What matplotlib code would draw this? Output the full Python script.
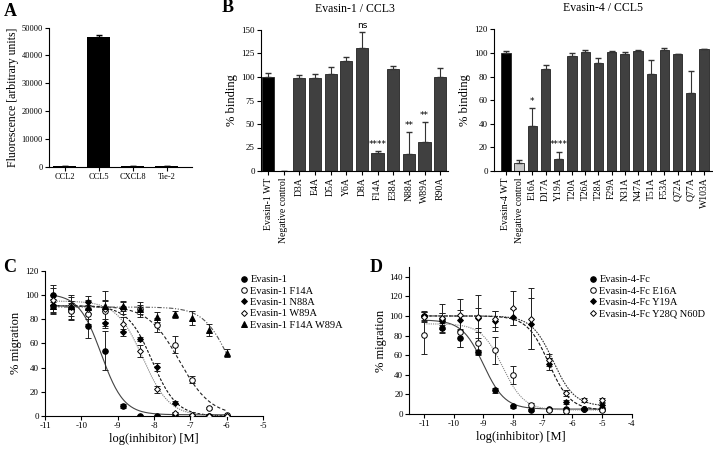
import numpy as np
import matplotlib
matplotlib.use("Agg")
import matplotlib.pyplot as plt
from matplotlib.lines import Line2D

plt.rcParams['font.family'] = ['Liberation Serif', 'DejaVu Serif']
plt.rcParams['axes.unicode_minus'] = False
plt.rcParams['axes.linewidth'] = 0.8

# ---- panel A data
a_labels = ['CCL2', 'CCL5', 'CXCL8', 'Tie-2']
a_vals = [250, 46500, 120, 250]
a_err = [100, 700, 60, 100]

# ---- panel B data
b1_labels = ['Evasin-1 WT', 'Negative control', 'D3A', 'E4A', 'D5A', 'Y6A', 'D8A',
             'F14A', 'E38A', 'N88A', 'W89A', 'R90A']
b1_vals = [100, 0.5, 99, 99, 103.5, 117.5, 130.5, 19.5, 108.5, 18, 31, 100.5]
b1_err = [4, 0, 3, 4, 7, 3.5, 17, 2.2, 3, 24, 21, 9]
b1_marks = ['', '', '', '', '', '', 'ns', '****', '', '**', '**', '']

b2_labels = ['Evasin-4 WT', 'Negative control', 'E16A', 'D17A', 'Y19A', 'T20A', 'T26A',
             'T28A', 'F29A', 'N31A', 'N47A', 'T51A', 'F53A', 'Q72A', 'Q77A', 'W103A']
b2_vals = [100, 7, 38, 86, 10, 97, 100.5, 91.5, 100.5, 99, 102, 82, 102.5, 99, 66, 103]
b2_err = [2, 2.5, 15, 4, 6.5, 3, 2, 4, 1.5, 2, 0.5, 12, 1.5, 0.5, 19, 0.5]
b2_marks = ['', '', '*', '', '****', '', '', '', '', '', '', '', '', '', '', '']

# ---- panel C data (log M)
c_x = [-10.77, -10.29, -9.82, -9.34, -8.86, -8.39, -7.91, -7.43, -6.95, -6.48, -6.00]
c_names = ['Evasin-1', 'Evasin-1 F14A', 'Evasin-1 N88A', 'Evasin-1 W89A', 'Evasin-1 F14A W89A']
c_y = [
    [100, 88, 74.5, 54, 8, 0, 0, 0, 0, 0, 0],
    [91, 87, 84, 87, 89, 88, 75, 59, 30, 6.5, 0.5],
    [92, 90, 94, 77, 69, 63.5, 40.5, 11, 0.5, 0, 0],
    [96, 92, 88, 88, 76, 54, 22, 2.5, 0.5, 0, 0],
    [91, 91, 90, 91, 91, 88, 82, 84, 81, 71, 52],
]
c_err = [
    [8, 5, 10, 16, 1.5, 0.5, 0.5, 0.5, 0.5, 0.5, 0.5],
    [6, 8, 8, 9, 5, 4, 6, 7, 3, 1, 0.5],
    [8, 10, 5, 3, 3, 1.5, 3, 1, 0.5, 0.5, 0.5],
    [10, 6, 8, 15, 6, 5, 3, 1, 0.5, 0.5, 0.5],
    [3, 4, 5, 4, 4, 6, 4, 3, 6, 5, 3.5],
]
# fit: top, bottom, logIC50, hill
c_fit = [(101, 1, -9.45, 1.4), (91, 0, -7.3, 1.0), (91, 0, -8.05, 1.3),
         (95, 0, -8.3, 1.2), (90, 0, -5.9, 1.2)]

# ---- panel D data
d_x = [-11, -10.4, -9.8, -9.2, -8.6, -8.0, -7.4, -6.8, -6.2, -5.6, -5.0]
d_names = ['Evasin-4-Fc', 'Evasin-4-Fc E16A', 'Evasin-4-Fc Y19A', 'Evasin-4-Fc Y28Q N60D']
d_y = [
    [100, 88, 77.5, 63, 24, 8, 4, 5, 5, 5, 5],
    [81, 97, 84, 72, 65, 40, 9, 4, 3, 5, 4],
    [100, 95, 96, 98, 95, 99, 92, 51, 12.5, 5, 9],
    [99, 98, 101, 99, 97, 108, 97, 55, 21, 14, 14],
]
d_err = [
    [4, 5, 9, 2, 3, 1.5, 1, 1, 1, 1, 1],
    [20, 6, 16, 12, 14, 9, 2, 1, 1, 1, 1],
    [5, 8, 10, 10, 10, 8, 26, 6, 2, 1, 2],
    [5, 14, 16, 22, 8, 17, 31, 6, 3, 2, 2],
]
d_fit = [(96, 5, -9.0, 1.2), (92, 4, -8.35, 1.2), (100, 4, -6.8, 1.2), (100, 8, -6.65, 1.2)]


def px(l, r, t, b):
    return [l / 713, 1 - b / 450, (r - l) / 713, (b - t) / 450]


def style(ax, fs=6.5):
    for s in ['top', 'right']:
        ax.spines[s].set_visible(False)
    ax.tick_params(labelsize=fs, length=3, width=0.8, pad=1.5)


def sig(x, p):
    top, bot, ic, h = p
    return bot + (top - bot) / (1 + 10 ** (h * (x - ic)))


fig = plt.figure(figsize=(7.13, 4.5), dpi=100)

# ---------- A
ax = fig.add_axes(px(49, 192, 27.7, 166.7))
xa = np.arange(len(a_labels))
ax.bar(xa, a_vals, width=0.68, color='black',
       yerr=[np.zeros(len(a_err)), a_err], capsize=2.5, error_kw=dict(lw=0.8))
ax.set_xlim(-0.47, 3.75)
ax.set_ylim(0, 50000)
ax.set_yticks(range(0, 50001, 10000))
ax.set_xticks(xa)
ax.set_xticklabels(a_labels)
ax.set_ylabel('Fluorescence [arbitrary units]', fontsize=8.5, labelpad=2)
style(ax, 6)
fig.text(0.006, 1 - 12 / 450, 'A', fontsize=13, fontweight='bold', va='center')

# ---------- B left
ax = fig.add_axes(px(261, 448, 30, 171))
xb = np.arange(len(b1_labels))
cols = ['black', 'white'] + ['#404040'] * (len(b1_labels) - 2)
ax.bar(xb, b1_vals, width=0.78, color=cols, edgecolor='#222222', lw=0.6,
       yerr=[np.zeros(len(b1_err)), b1_err], capsize=2.5, error_kw=dict(lw=0.8, ecolor='#333333'))
for i, m in enumerate(b1_marks):
    if m:
        ax.text(i, b1_vals[i] + b1_err[i] + 2, m, ha='center', va='bottom', fontsize=6.5,
                family='DejaVu Sans')
ax.set_xlim(-0.45, 11.5)
ax.set_ylim(0, 150)
ax.set_yticks(range(0, 151, 25))
ax.set_xticks(xb)
ax.set_xticklabels(b1_labels, rotation=90, fontsize=7)
ax.set_ylabel('% binding', fontsize=9, labelpad=2)
ax.set_title('Evasin-1 / CCL3', fontsize=8.5, pad=13)
style(ax)
ax.tick_params(axis='x', labelsize=7)
fig.text(222 / 713, 1 - 8 / 450, 'B', fontsize=13, fontweight='bold', va='center')

# ---------- B right
ax = fig.add_axes(px(494, 712, 29.3, 171))
xb = np.arange(len(b2_labels))
cols = ['black', '#c8c8c8'] + ['#404040'] * (len(b2_labels) - 2)
ax.bar(xb, b2_vals, width=0.7, color=cols, edgecolor='#222222', lw=0.6,
       yerr=[np.zeros(len(b2_err)), b2_err], capsize=2.2, error_kw=dict(lw=0.8, ecolor='#333333'))
for i, m in enumerate(b2_marks):
    if m:
        ax.text(i, b2_vals[i] + b2_err[i] + 2, m, ha='center', va='bottom', fontsize=6.5,
                family='DejaVu Sans')
ax.set_xlim(-0.9, 15.6)
ax.set_ylim(0, 120)
ax.set_yticks(range(0, 121, 20))
ax.set_xticks(xb)
ax.set_xticklabels(b2_labels, rotation=90, fontsize=7)
ax.set_ylabel('% binding', fontsize=9, labelpad=2)
ax.set_title('Evasin-4 / CCL5', fontsize=8.5, pad=13)
style(ax)
ax.tick_params(axis='x', labelsize=7)

# ---------- C
ax = fig.add_axes(px(45, 263, 270.7, 416))
c_mk = ['o', 'o', 'D', 'D', '^']
c_fc = ['black', 'white', 'black', 'white', 'black']
c_ms = [4, 4, 3, 3, 4]
c_ls = ['-', (0, (3, 2)), (0, (2.5, 1.5)), (0, (1, 1)), (0, (4, 1.5, 1, 1.5, 1, 1.5))]
c_lc = ['#444444', '#222222', '#111111', '#777777', '#555555']
xs = np.linspace(-10.8, -6.0, 200)
for i in range(len(c_names)):
    ax.plot(xs, sig(xs, c_fit[i]), ls=c_ls[i], color=c_lc[i], lw=0.8)
    ax.errorbar(c_x, c_y[i], yerr=c_err[i], fmt=c_mk[i], ms=c_ms[i], mfc=c_fc[i], mec='black',
                mew=0.7, ecolor='#222222', elinewidth=0.7, capsize=2, capthick=0.7, zorder=3)
ax.set_xlim(-11, -5)
ax.set_ylim(0, 120)
ax.set_yticks(range(0, 121, 20))
ax.set_xticks(range(-11, -4))
ax.set_xlabel('log(inhibitor) [M]', fontsize=9, labelpad=2)
ax.set_ylabel('% migration', fontsize=9, labelpad=2)
style(ax)
hd = [Line2D([], [], ls='none', marker=c_mk[i], ms=c_ms[i], mfc=c_fc[i], mec='black', mew=0.7)
      for i in range(len(c_names))]
fig.legend(hd, c_names, loc='upper left', bbox_to_anchor=(241 / 713, 1 - 275 / 450),
           frameon=False, fontsize=7.5, handlelength=0.6, handletextpad=0.3,
           labelspacing=0.2, borderpad=0, borderaxespad=0)
fig.text(0.004, 1 - 267 / 450, 'C', fontsize=13, fontweight='bold', va='center')

# ---------- D
ax = fig.add_axes(px(409.3, 631.7, 266.9, 414))
d_mk = ['o', 'o', 'D', 'D']
d_fc = ['black', 'white', 'black', 'white']
d_ms = [4, 4, 3, 3]
d_ls = ['-', (0, (1, 1)), (0, (3, 1.5)), (0, (1.5, 1))]
d_lc = ['#444444', '#888888', '#111111', '#333333']
xs = np.linspace(-11, -5, 200)
for i in range(len(d_names)):
    ax.plot(xs, sig(xs, d_fit[i]), ls=d_ls[i], color=d_lc[i], lw=0.8)
    ax.errorbar(d_x, d_y[i], yerr=d_err[i], fmt=d_mk[i], ms=d_ms[i], mfc=d_fc[i], mec='black',
                mew=0.7, ecolor='#222222', elinewidth=0.7, capsize=2, capthick=0.7, zorder=3)
ax.set_xlim(-11.5, -4)
ax.set_ylim(0, 150)
ax.set_yticks(range(0, 141, 20))
ax.set_xticks(range(-11, -3))
ax.set_xlabel('log(inhibitor) [M]', fontsize=9, labelpad=2)
ax.set_ylabel('% migration', fontsize=9, labelpad=2)
style(ax)
hd = [Line2D([], [], ls='none', marker=d_mk[i], ms=d_ms[i], mfc=d_fc[i], mec='black', mew=0.7)
      for i in range(len(d_names))]
fig.legend(hd, d_names, loc='upper left', bbox_to_anchor=(590 / 713, 1 - 275 / 450),
           frameon=False, fontsize=7.5, handlelength=0.6, handletextpad=0.3,
           labelspacing=0.2, borderpad=0, borderaxespad=0)
fig.text(370 / 713, 1 - 268 / 450, 'D', fontsize=13, fontweight='bold', va='center')

fig.savefig('out.png', dpi=100)
